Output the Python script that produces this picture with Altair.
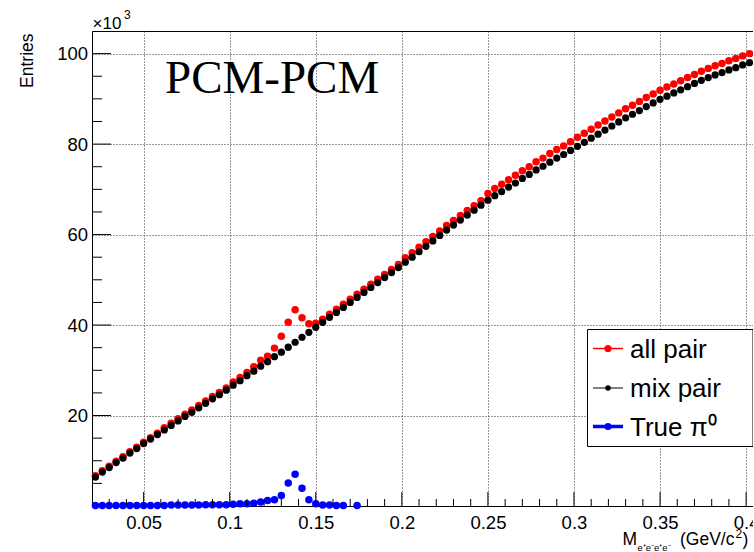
import altair as alt
import pandas as pd

# ---------------- data (entries in units of 10^3) ----------------
BIN_LOW = 0.02
BIN_WIDTH = 0.004

SERIES = ["all pair", "mix pair", "True π⁰"]
COLORS = ["#ff0000", "#000000", "#0000ff"]

all_pair = [
    6.7, 7.8, 8.8, 9.9, 10.9, 12.0, 13.0, 14.1, 15.1, 16.1,
    17.3, 18.3, 19.3, 20.3, 21.2, 22.2, 23.2, 24.2, 25.1, 26.1,
    27.4, 28.4, 29.5, 30.8, 32.2, 33.1, 34.9, 37.5, 40.6, 43.4,
    41.6, 40.3, 40.4, 41.3, 42.4, 43.5, 44.6, 45.7, 46.8, 47.9,
    49.0, 50.1, 51.2, 52.3, 53.4, 54.9, 56.0, 57.2, 58.4, 59.6,
    60.8, 62.0, 63.1, 64.2, 65.3, 66.4, 67.5, 69.1, 70.2, 71.1,
    72.1, 73.1, 74.1, 75.0, 76.1, 76.9, 77.9, 78.8, 79.6, 80.5,
    81.5, 82.4, 83.3, 84.2, 85.1, 86.0, 86.9, 87.8, 88.6, 89.4,
    90.3, 91.1, 91.9, 92.6, 93.3, 94.0, 94.7, 95.4, 96.1, 96.7,
    97.3, 97.8, 98.4, 98.9, 99.5, 100.0,
]

mix_pair = [
    6.4, 7.5, 8.5, 9.6, 10.6, 11.7, 12.7, 13.8, 14.8, 15.8,
    16.8, 17.8, 18.8, 19.8, 20.7, 21.7, 22.7, 23.7, 24.6, 25.6,
    26.7, 27.7, 28.8, 29.8, 30.9, 31.9, 33.0, 34.0, 35.1, 36.2,
    37.3, 38.4, 39.5, 40.6, 41.7, 42.8, 43.9, 45.0, 46.1, 47.2,
    48.3, 49.4, 50.5, 51.6, 52.7, 53.9, 55.0, 56.2, 57.4, 58.6,
    59.8, 61.0, 62.1, 63.2, 64.3, 65.4, 66.5, 67.6, 68.6, 69.5,
    70.5, 71.4, 72.4, 73.3, 74.3, 75.1, 76.0, 76.9, 77.7, 78.6,
    79.5, 80.4, 81.3, 82.2, 83.1, 84.0, 84.9, 85.8, 86.6, 87.4,
    88.3, 89.1, 89.9, 90.6, 91.3, 92.0, 92.7, 93.4, 94.1, 94.7,
    95.3, 95.8, 96.4, 96.9, 97.5, 98.0,
]

true_pi0 = [
    0.1, 0.1, 0.1, 0.1, 0.1, 0.1, 0.1, 0.1, 0.1, 0.1,
    0.1, 0.2, 0.2, 0.2, 0.2, 0.2, 0.3, 0.3, 0.3, 0.3,
    0.4, 0.5, 0.5, 0.6, 0.9, 1.2, 1.4, 2.3, 5.1, 7.0,
    3.9, 1.4, 0.5, 0.2, 0.2, 0.1, 0.1, None, 0.1,
]

X_MAJOR = [0.05, 0.1, 0.15, 0.2, 0.25, 0.3, 0.35, 0.4]
X_MINOR = [0.03, 0.04, 0.06, 0.07, 0.08, 0.09, 0.11, 0.12, 0.13, 0.14,
           0.16, 0.17, 0.18, 0.19, 0.21, 0.22, 0.23, 0.24, 0.26, 0.27,
           0.28, 0.29, 0.31, 0.32, 0.33, 0.34, 0.36, 0.37, 0.38, 0.39]
Y_MAJOR = [20, 40, 60, 80, 100]
Y_MINOR = [5, 10, 15, 25, 30, 35, 45, 50, 55, 65, 70, 75, 85, 90, 95]

# ---------------- table ----------------
rows = []
for name, vals in zip(SERIES, [all_pair, mix_pair, true_pi0]):
    for i, v in enumerate(vals):
        if v is None:
            continue
        rows.append({"m": round(BIN_LOW + BIN_WIDTH * (i + 0.5), 4), "entries": v, "series": name})
df = pd.DataFrame(rows)

# ---------------- layout ----------------
W, H = 661, 475
PAD_L, PAD_T = 92, 31
SANS = "Liberation Sans"
GRID = "#333333"

xs = alt.Scale(domain=[0.02, 0.404], nice=False, zero=False)
ys = alt.Scale(domain=[0, 105], nice=False, zero=False)
cs = alt.Scale(domain=SERIES, range=COLORS)

x_axis = alt.Axis(values=X_MAJOR, format="~g", ticks=False, tickSize=0,
                  domain=True, domainColor="black", domainWidth=1,
                  grid=True, gridColor=GRID, gridDash=[1, 2], gridWidth=1,
                  labelFont=SANS, labelFontSize=18.5, labelColor="black",
                  labelPadding=7, labelFlush=False, labelOverlap=False, title=None)
y_axis = alt.Axis(values=Y_MAJOR, format="d", ticks=False, tickSize=0,
                  domain=True, domainColor="black", domainWidth=1,
                  grid=True, gridColor=GRID, gridDash=[1, 2], gridWidth=1,
                  labelFont=SANS, labelFontSize=18.5, labelColor="black",
                  labelPadding=4.5, labelFlush=False, labelOverlap=False,
                  title="Entries", titleFont=SANS, titleFontSize=17.5, titleFontWeight="normal",
                  titleColor="black", titleAngle=270, titleAlign="right",
                  titleBaseline="alphabetic", titleX=-59.5, titleY=2)


def points(name, size):
    return alt.Chart(df).transform_filter(alt.datum.series == name).mark_point(
        filled=True, shape="circle", size=size, opacity=1, strokeWidth=0
    ).encode(
        x=alt.X("m:Q", scale=xs, axis=x_axis),
        y=alt.Y("entries:Q", scale=ys, axis=y_axis),
        color=alt.Color("series:N", scale=cs, legend=None),
    )


def xticks(vals, length):
    return alt.Chart(pd.DataFrame({"v": vals})).mark_rule(color="black", strokeWidth=1).encode(
        x=alt.X("v:Q", scale=xs, axis=x_axis), y=alt.value(H), y2=alt.value(H - length))


def yticks(vals, length):
    return alt.Chart(pd.DataFrame({"v": vals})).mark_rule(color="black", strokeWidth=1).encode(
        y=alt.Y("v:Q", scale=ys, axis=y_axis), x=alt.value(0), x2=alt.value(length))


def text(t, x, y, size, font=SANS, align="left", baseline="alphabetic"):
    return alt.Chart(alt.Data(values=[{}])).mark_text(
        text=t, font=font, fontSize=size, align=align, baseline=baseline, color="black"
    ).encode(x=alt.value(x), y=alt.value(y))


ONE = alt.Data(values=[{}])

# legend (drawn as marks, box placed inside the frame at the lower right)
LEG_X0, LEG_X1, LEG_Y0, LEG_Y1 = 495.5, 661, 298.5, 415.5
LEG_ROW_Y = [317.5, 357, 395.5]
LEG_LINE_W = [1.5, 1, 3.5]
LEG_MARK_SIZE = [52, 30, 50]

legend_layers = [
    alt.Chart(ONE).mark_rect(fill="white", stroke="black", strokeWidth=1).encode(
        x=alt.value(LEG_X0), x2=alt.value(LEG_X1), y=alt.value(LEG_Y0), y2=alt.value(LEG_Y1))
]
for name, col, yc, lw, ms in zip(SERIES, COLORS, LEG_ROW_Y, LEG_LINE_W, LEG_MARK_SIZE):
    legend_layers.append(alt.Chart(ONE).mark_rule(color=col, strokeWidth=lw).encode(
        x=alt.value(501), x2=alt.value(531), y=alt.value(yc)))
    legend_layers.append(alt.Chart(ONE).mark_point(filled=True, shape="circle", color=col,
                                                   size=ms, opacity=1, strokeWidth=0).encode(
        x=alt.value(516), y=alt.value(yc)))
    legend_layers.append(text(name, 538, yc + 1, 26, baseline="middle"))

layers = [
    points("all pair", 56),
    points("mix pair", 52),
    points("True π⁰", 56),
    xticks(X_MAJOR, 14), xticks(X_MINOR, 7),
    yticks(Y_MAJOR, 19), yticks(Y_MINOR, 10),
    *legend_layers,
    text("PCM-PCM", 73, 62, 47, font="Liberation Serif"),
    text("×10", 0.5, -2.5, 17),
    text("3", 32, -12, 12),
    # x-axis title  M_{e+e-e+e-} (GeV/c^2), right-aligned at the frame's right edge
    text("M", 530.5, 514, 17.5),
    text("e⁺e⁻e⁺e⁻", 545.5, 519.5, 9.5),
    text("(GeV/c", 588, 514, 17.5),
    text("2", 643.5, 507, 12),
    text(")", 650.5, 514, 17.5),
]

chart = alt.layer(*layers).properties(
    width=W, height=H,
    padding={"left": PAD_L, "top": PAD_T, "right": 0, "bottom": 552 - PAD_T - H},
    autosize=alt.AutoSizeParams(type="none"),
    background="white",
).configure_view(stroke="black", strokeWidth=1)

chart.save("out.html", embed_options={"renderer": "svg", "actions": False})
